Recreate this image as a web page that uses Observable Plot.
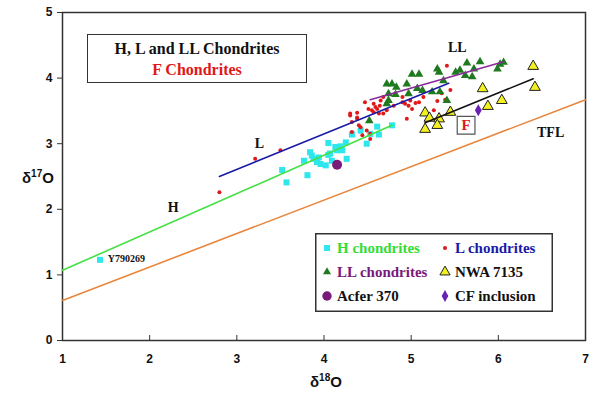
<!DOCTYPE html>
<html><head><meta charset="utf-8">
<script src="https://cdn.jsdelivr.net/npm/d3@7"></script>
<script src="https://cdn.jsdelivr.net/npm/@observablehq/plot@0.6"></script>
<style>
body{margin:0;background:#fff;}
#wrap{position:relative;width:600px;height:399px;overflow:hidden;}
.ov{position:absolute;font-family:"Liberation Serif","Times New Roman",serif;font-weight:bold;}
.ax{position:absolute;font-family:"Liberation Sans",Arial,sans-serif;font-weight:bold;font-size:15px;color:#111;}
.ax sup{font-size:10px;}
</style></head><body><div id="wrap"></div><script>
// ---- data (δ18O, δ17O) ----
const hChondrites = [[3.52,2.60],[3.57,2.41],[3.81,2.52],[3.77,2.74],[3.84,2.87],[3.86,2.82],[3.88,2.77],[3.94,2.79],[3.96,2.69],[4.02,2.67],[4.05,3.01],[4.07,2.85],[4.09,2.74],[4.13,2.95],[4.15,2.90],[4.19,2.96],[4.21,2.90],[4.25,3.02],[4.26,2.77],[4.32,3.14],[4.42,3.20],[4.49,3.00],[4.53,3.15],[4.61,3.26],[4.63,3.14],[4.78,3.28],[4.05,2.83],[3.92,2.72]];
const y790269 = [[1.43,1.23]];
const lChondrites = [[2.80,2.26],[3.21,2.77],[3.50,2.90],[4.30,3.43],[4.38,3.47],[4.38,3.38],[4.42,3.25],[4.44,3.13],[4.49,3.20],[4.53,3.07],[4.47,3.63],[4.57,3.61],[4.65,3.66],[4.64,3.58],[4.51,3.53],[4.55,3.51],[4.57,3.48],[4.61,3.53],[4.63,3.46],[4.59,3.56],[4.68,3.46],[4.72,3.51],[4.30,3.46],[4.38,3.40],[4.32,3.33],[4.40,3.28],[4.32,3.18],[4.53,3.15],[4.95,3.38],[4.90,3.63],[4.93,3.61],[4.99,3.66],[4.97,3.58],[5.05,3.62],[5.09,3.63],[4.90,3.71],[5.14,3.71],[5.30,3.65],[5.35,3.77],[5.39,3.67],[5.41,4.19],[4.68,3.71],[4.80,3.58],[5.01,3.53],[5.45,3.82],[5.26,3.51]];
const llChondrites = [[4.72,3.91],[4.78,3.91],[4.83,3.86],[4.95,3.91],[5.01,4.06],[5.09,4.06],[4.74,3.76],[4.82,3.75],[4.74,3.66],[4.72,3.61],[4.97,3.76],[5.07,3.84],[5.13,3.81],[5.30,4.14],[5.32,4.09],[5.24,3.79],[5.33,3.79],[5.37,3.96],[5.41,3.66],[5.51,4.09],[5.56,4.12],[5.64,4.23],[5.62,4.04],[5.70,4.02],[5.72,4.14],[5.79,4.25],[5.99,4.14],[6.06,4.24],[6.02,4.21],[4.52,3.35]];
const nwa7135 = [[6.40,4.18],[6.42,3.86],[5.82,3.84],[6.04,3.66],[5.88,3.57],[5.45,3.48],[5.16,3.47],[5.21,3.39],[5.32,3.38],[5.16,3.22],[5.30,3.28]];
const acfer370 = [[4.15,2.68]];
const cfInclusion = [[5.77,3.51]];
// fitted lines (end points)
const lineTFL = [[1,0.61],[7,3.67]];
const lineH = [[1,1.07],[4.78,3.28]];
const lineL = [[2.80,2.50],[5.43,3.92]];
const lineLL = [[4.53,3.67],[6.06,4.25]];
const lineNWA = [[5.16,3.32],[6.40,3.99]];
// labels
const lineLabels = ["H","L","LL","TFL"];
const lineLabelX = [2.27,3.26,5.53,6.60];
const lineLabelY = [2.03,3.00,4.47,3.17];
const fLabel = [{t:"F",x:5.63,y:3.28}];
const yLabel = [{t:"Y790269",x:1.52,y:1.25}];
const xTicks = [1,2,3,4,5,6,7];
const yTicks = [0,1,2,3,4,5];

const X = d=>d[0], Y = d=>d[1];
const ann = lineLabels.map((t,i)=>({t, x:lineLabelX[i], y:lineLabelY[i]}));
const serif = "Liberation Serif, Times New Roman, serif";
const fmt = d3.format("d");

const plot = Plot.plot({
  width:600, height:399,
  marginLeft:62, marginRight:15, marginTop:12, marginBottom:59,
  style:{fontFamily:"Liberation Sans, Arial, sans-serif", fontSize:"12px", fontWeight:"bold", background:"white", color:"#111"},
  x:{domain:[1,7], label:null},
  y:{domain:[0,5], label:null},
  marks:[
    Plot.axisX(xTicks,{tickSize:0, tickPadding:14, fontSize:12, fontWeight:"bold", tickFormat:fmt}),
    Plot.tickX(xTicks,{x:d=>d, insetTop:323, stroke:"#333"}),
    Plot.axisY(yTicks,{tickSize:5, tickPadding:5, fontSize:12, fontWeight:"bold", stroke:"#333", tickFormat:fmt}),
    Plot.frame({stroke:"#333", strokeWidth:1.5}),
    Plot.line(lineTFL,{x:X,y:Y,stroke:"#e8863c",strokeWidth:1.6}),
    Plot.dot(hChondrites,{x:X,y:Y,symbol:"square",r:3.4,fill:"#2ee6ee"}),
    Plot.dot(y790269,{x:X,y:Y,symbol:"square",r:3.4,fill:"#2ee6ee"}),
    Plot.dot(lChondrites,{x:X,y:Y,r:2,fill:"#e01818"}),
    Plot.dot(llChondrites,{x:X,y:Y,symbol:"triangle",r:3.2,fill:"#1f7a1f"}),
    Plot.dot(nwa7135,{x:X,y:Y,symbol:"triangle",r:4,fill:"#f2f020",stroke:"#222",strokeWidth:1}),
    Plot.line(lineH,{x:X,y:Y,stroke:"#44e044",strokeWidth:1.6}),
    Plot.line(lineL,{x:X,y:Y,stroke:"#1a1aa8",strokeWidth:1.6}),
    Plot.line(lineLL,{x:X,y:Y,stroke:"#8a2a9a",strokeWidth:1.6}),
    Plot.line(lineNWA,{x:X,y:Y,stroke:"#111",strokeWidth:1.6}),
    Plot.dot(acfer370,{x:X,y:Y,r:5,fill:"#7a1a7a"}),
    Plot.dot(cfInclusion,{x:X,y:Y,symbol:"diamond",r:3.6,fill:"#6a22b0"}),
    Plot.text(ann,{x:"x",y:"y",text:"t",fontFamily:serif,fontSize:14,fontWeight:"bold",fill:"#111"}),
    Plot.text(yLabel,{x:"x",y:"y",text:"t",textAnchor:"start",fontFamily:serif,fontSize:10,fontWeight:"bold",fill:"#111"}),
    Plot.dot(fLabel,{x:"x",y:"y",symbol:"square",r:10,fill:"white",stroke:"#555",strokeWidth:1.2}),
    Plot.text(fLabel,{x:"x",y:"y",text:"t",fontFamily:serif,fontSize:15,fontWeight:"bold",fill:"#e01818"})
  ]
});
const wrap = document.getElementById("wrap");
wrap.appendChild(plot);

// axis titles
const yt = document.createElement("div"); yt.className="ax";
yt.style.left="22px"; yt.style.top="168px"; yt.innerHTML="δ<sup>17</sup>O"; wrap.appendChild(yt);
const xt = document.createElement("div"); xt.className="ax";
xt.style.left="310px"; xt.style.top="372px"; xt.innerHTML="δ<sup>18</sup>O"; wrap.appendChild(xt);

// title box
const tb = document.createElement("div"); tb.className="ov";
Object.assign(tb.style,{left:"87px",top:"34px",width:"220px",height:"49px",border:"1.5px solid #333",background:"white",textAlign:"center",fontSize:"16px",lineHeight:"21px",paddingTop:"3px",boxSizing:"border-box"});
tb.innerHTML='<div style="color:#111">H, L and LL Chondrites</div><div style="color:#e01818">F Chondrites</div>';
wrap.appendChild(tb);

// legend
const legendItems = [
  {label:"H chondrites", color:"#33dd33", sym:d3.symbolSquare, size:36, fill:"#2ee6ee", stroke:"none"},
  {label:"L chondrites", color:"#1a1aa8", sym:d3.symbolCircle, size:13, fill:"#e01818", stroke:"none"},
  {label:"LL chondrites", color:"#7a1a7a", sym:d3.symbolTriangle, size:28, fill:"#1f7a1f", stroke:"none"},
  {label:"NWA 7135", color:"#111", sym:d3.symbolTriangle, size:45, fill:"#f2f020", stroke:"#222"},
  {label:"Acfer 370", color:"#111", sym:d3.symbolCircle, size:70, fill:"#7a1a7a", stroke:"none"},
  {label:"CF inclusion", color:"#111", sym:d3.symbolDiamond, size:40, fill:"#6a22b0", stroke:"none"}
];
const lg = d3.select(wrap).append("svg").attr("width",238).attr("height",79)
  .style("position","absolute").style("left","315px").style("top","233px");
lg.append("rect").attr("x",0.75).attr("y",0.75).attr("width",236.5).attr("height",77.5).attr("fill","white").attr("stroke","#333").attr("stroke-width",1.5);
legendItems.forEach((it,i)=>{
  const col=i%2, row=Math.floor(i/2);
  const gx = 12 + col*118, gy = 15 + row*24;
  lg.append("path").attr("d",d3.symbol(it.sym,it.size)()).attr("transform",`translate(${gx},${gy})`)
    .attr("fill",it.fill).attr("stroke",it.stroke);
  lg.append("text").attr("x",gx+10).attr("y",gy+5).text(it.label)
    .attr("font-family",serif).attr("font-weight","bold").attr("font-size",15).attr("fill",it.color);
});
</script></body></html>
